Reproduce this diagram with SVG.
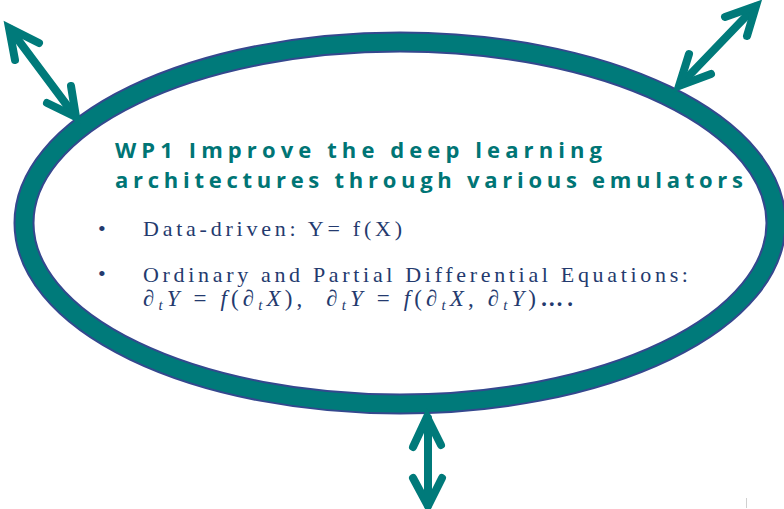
<svg xmlns="http://www.w3.org/2000/svg" width="784" height="509" viewBox="0 0 784 509">
<style>
.arrow{fill:none;stroke:#007A7A;stroke-width:8;stroke-linecap:round;stroke-linejoin:miter;stroke-miterlimit:10}
.title{font-family:"Open Sans","Liberation Sans",sans-serif;font-weight:bold;font-size:22px;fill:#007575}
.body{font-family:"Liberation Serif","Times New Roman",serif;font-size:22px;fill:#243A6E}
.math{font-family:"Liberation Serif","DejaVu Serif",serif;font-style:italic;font-size:23px;fill:#243A6E}
.sub{font-size:15px}
.up{font-style:normal}
</style>
<rect width="784" height="509" fill="#ffffff"/>
<g id="ellipse">
<ellipse cx="400" cy="223" rx="376" ry="181" fill="none" stroke="#34488E" stroke-width="21"/>
<ellipse cx="400" cy="223" rx="376" ry="181" fill="none" stroke="#007A7A" stroke-width="17"/>
</g>
<g id="connectors">
<g id="arrow-topleft">
<line class="arrow" x1="10" y1="29" x2="75" y2="116"/>
<polyline class="arrow" points="39,43 9,28 15,60"/>
<polyline class="arrow" points="71,86 76,117 47,103"/>
</g>
<g id="arrow-topright">
<line class="arrow" x1="755" y1="7" x2="680" y2="85"/>
<polyline class="arrow" points="725,17 756,6 747,36"/>
<polyline class="arrow" points="689,54 679,86 711,74"/>
</g>
<g id="arrow-bottom">
<line class="arrow" x1="428" y1="418" x2="428" y2="505"/>
<polyline class="arrow" points="413,447 427,417 441,445"/>
<polyline class="arrow" points="413,478 428,506 442,478"/>
</g>
</g>
<g id="content">
<text class="title" x="115" y="158" textLength="487" lengthAdjust="spacing">WP1 Improve the deep learning</text>
<text class="title" x="115" y="188" textLength="628" lengthAdjust="spacing">architectures through various emulators</text>
<text class="body" x="98" y="236" font-size="18">•</text>
<text class="body" x="143" y="236" textLength="259" lengthAdjust="spacing">Data-driven: Y= f(X)</text>
<text class="body" x="98" y="281" font-size="18">•</text>
<text class="body" x="143" y="282" textLength="545" lengthAdjust="spacing">Ordinary and Partial Differential Equations:</text>
<text class="math" x="143" y="306" textLength="430" lengthAdjust="spacing" xml:space="preserve">∂<tspan class="sub" dy="4">t</tspan><tspan dy="-4">Y </tspan><tspan class="up">= </tspan>f<tspan class="up">(</tspan>∂<tspan class="sub" dy="4">t</tspan><tspan dy="-4">X</tspan><tspan class="up">),  </tspan>∂<tspan class="sub" dy="4">t</tspan><tspan dy="-4">Y </tspan><tspan class="up">= </tspan>f<tspan class="up">(</tspan>∂<tspan class="sub" dy="4">t</tspan><tspan dy="-4">X</tspan><tspan class="up">, </tspan>∂<tspan class="sub" dy="4">t</tspan><tspan dy="-4">Y</tspan><tspan class="up">)</tspan><tspan class="up" font-weight="bold">….</tspan></text>
</g>
<rect x="746" y="498" width="1" height="10" fill="#d0d0d0"/>
</svg>
